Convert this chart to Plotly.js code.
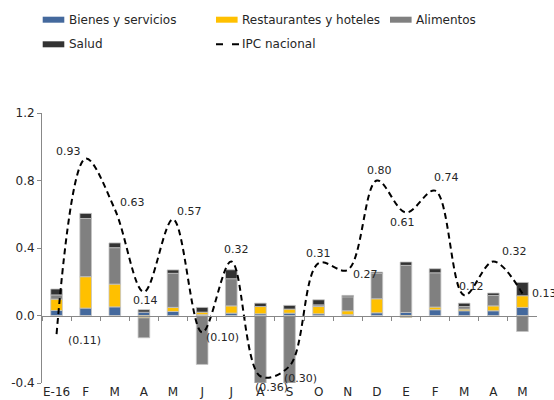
<!DOCTYPE html>
<html>
<head>
<meta charset="utf-8">
<script src="https://cdn.plot.ly/plotly-3.0.1.min.js"></script>
<style>
  html, body { margin:0; padding:0; background:#fff; }
  #chart { width:554px; height:400px; }
</style>
</head>
<body>
<div id="chart"></div>
<script>
// datos (variacion mensual, pp)
const cats = ['E-16','F','M','A','M','J','J','A','S','O','N','D','E','F','M','A','M'];
const bienes       = [0.030, 0.044, 0.051, 0.020, 0.024, 0.005, 0.014, 0.010, 0.014, 0.010, 0.005, 0.016, 0.018, 0.034, 0.028, 0.028, 0.048];
const restaurantes = [0.067, 0.186, 0.135, -0.014, 0.024, 0.015, 0.043, 0.043, 0.024, 0.043, 0.023, 0.083, -0.012, 0.016, 0.010, 0.029, 0.069];
const alimentos    = [0.025, 0.345, 0.216, -0.118, 0.202, -0.290, 0.161, -0.400, -0.400, 0.010, 0.083, 0.151, 0.279, 0.203, 0.015, 0.062, -0.095];
const salud        = [0.035, 0.030, 0.028, 0.014, 0.020, 0.028, 0.053, 0.020, 0.022, 0.030, 0.008, 0.007, 0.020, 0.024, 0.020, 0.014, 0.079];
const ipc          = [-0.11, 0.93, 0.63, 0.14, 0.57, -0.10, 0.32, -0.36, -0.30, 0.31, 0.27, 0.80, 0.61, 0.74, 0.12, 0.32, 0.13];
const yTicks = [-0.4, 0.0, 0.4, 0.8, 1.2];

const seriesNames = ['Bienes y servicios', 'Restaurantes y hoteles', 'Alimentos', 'Salud', 'IPC nacional'];
const colors = ['#44699d', '#ffc000', '#808080', '#333333'];

// desplazamiento de cada etiqueta respecto a su punto (px)
const labelShift = [[28,-6],[-17,7],[18,7],[2,-9],[16,8],[20,-5],[5,12],[11,-11],[11,-12],
                    [0,10],[18,-5],[3,10],[-3,-10],[11,13],[7,9],[21,10],[22,0]];

// area de trazado en px
const L = 42, T = 113, W = 495, H = 270;
const px = x => (x - L) / W;
const py = y => (T + H - y) / H;

const xs = cats.map((c, i) => i);
const font = 'DejaVu Sans, Verdana, sans-serif';
const txt = '#262626';

const barSeries = [bienes, restaurantes, alimentos, salud];
const data = barSeries.map((vals, k) => ({
  type: 'bar', x: xs, y: vals, name: seriesNames[k],
  marker: {color: colors[k], line: {color: '#c4c4c4', width: 0.8}},
  width: 0.4, showlegend: false, hoverinfo: 'skip'
}));

data.push({
  type: 'scatter', mode: 'lines', x: xs, y: ipc, name: seriesNames[4],
  xaxis: 'x2', yaxis: 'y',
  line: {color: '#000', width: 2, dash: '6px,4px', shape: 'spline', smoothing: 1},
  showlegend: false, hoverinfo: 'skip'
});

const fmt = v => v < 0 ? '(' + Math.abs(v).toFixed(2) + ')' : v.toFixed(2);

const annotations = ipc.map((v, i) => ({
  x: i, y: v, xref: 'x', yref: 'y', text: fmt(v), showarrow: false,
  xshift: labelShift[i][0], yshift: labelShift[i][1],
  font: {family: font, size: 11, color: txt}
}));

// leyenda manual (2 filas, 3 columnas)
const legCols = [42.7, 216, 390];
const legRows = [19.7, 44.3];
const shapes = [];
seriesNames.forEach((name, k) => {
  const cx = legCols[k % 3], cy = legRows[Math.floor(k / 3)];
  if (k < 4) {
    shapes.push({type: 'rect', xref: 'paper', yref: 'paper',
      x0: px(cx), x1: px(cx + 21.6), y0: py(cy + 3), y1: py(cy - 3),
      fillcolor: colors[k], line: {width: 0}});
  } else {
    shapes.push({type: 'line', xref: 'paper', yref: 'paper',
      x0: px(cx), x1: px(cx + 23), y0: py(cy), y1: py(cy),
      line: {color: '#000', width: 2, dash: '7px,9px'}});
  }
  annotations.push({xref: 'paper', yref: 'paper', x: px(cx + 24), y: py(cy),
    xanchor: 'left', yanchor: 'middle', text: name, showarrow: false,
    font: {family: font, size: 12, color: txt}});
});

const layout = {
  width: 554, height: 400,
  margin: {l: L, r: 554 - L - W, t: T, b: 400 - T - H},
  paper_bgcolor: '#fff', plot_bgcolor: '#fff',
  font: {family: font, size: 12, color: txt},
  barmode: 'relative', showlegend: false,
  xaxis: {range: [-0.5, 16.5], tickvals: xs, ticktext: cats, showgrid: false,
          zeroline: false, showline: false, ticks: '', automargin: false,
          tickfont: {family: font, size: 12, color: txt}},
  xaxis2: {matches: 'x', overlaying: 'x', anchor: 'free', position: 0.25,
           showline: true, linecolor: '#888', linewidth: 1,
           ticks: 'outside', ticklen: 4, tickcolor: '#888',
           tickvals: xs.concat([16]).map(i => i - 0.5), showticklabels: false,
           showgrid: false, zeroline: false},
  yaxis: {range: [-0.4, 1.2], tickvals: yTicks, ticktext: yTicks.map(v => v.toFixed(1)),
          showgrid: false, zeroline: false, showline: true, linecolor: '#888',
          ticks: 'outside', ticklen: 4, tickcolor: '#888', automargin: false,
          tickfont: {family: font, size: 12, color: txt}},
  annotations: annotations,
  shapes: shapes
};

Plotly.newPlot('chart', data, layout, {displayModeBar: false, staticPlot: true});
</script>
</body>
</html>
